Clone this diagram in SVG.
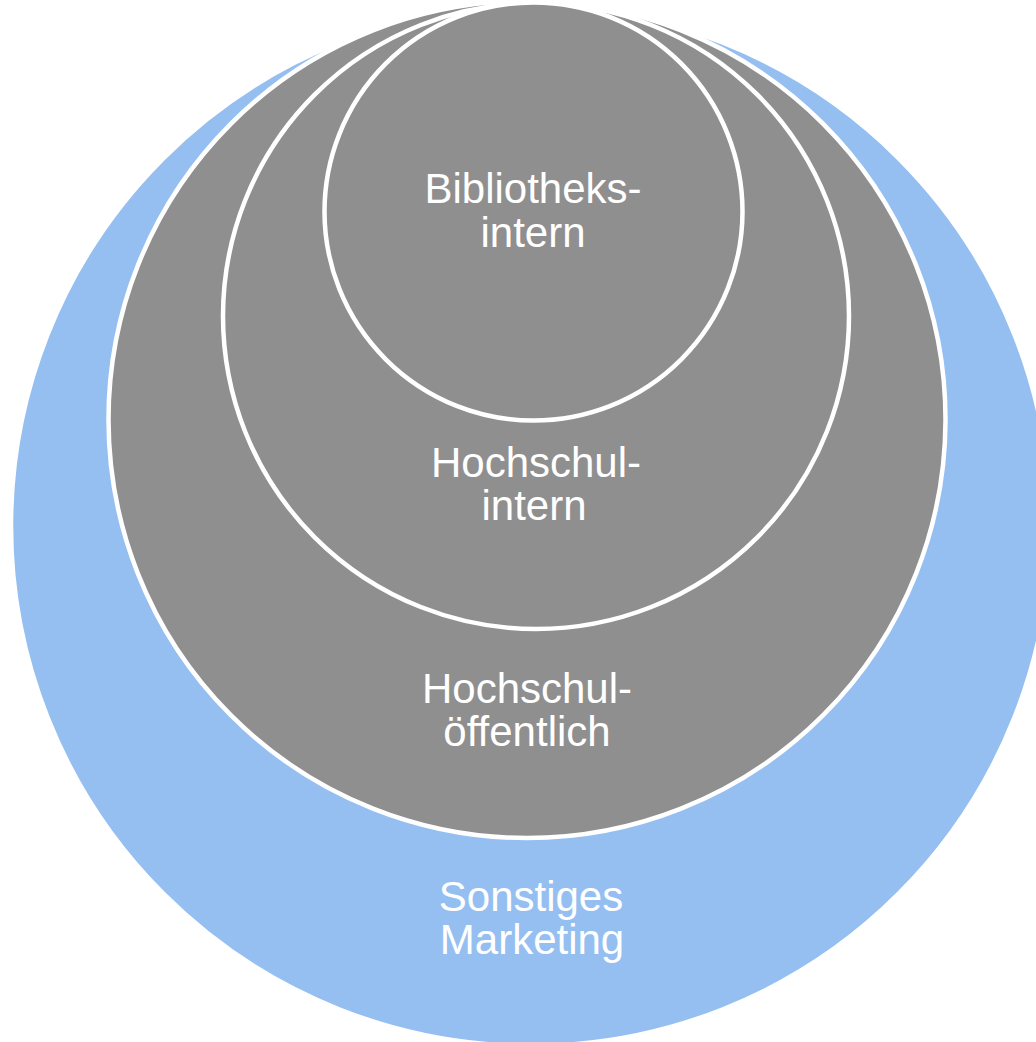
<svg xmlns="http://www.w3.org/2000/svg" width="1036" height="1042" viewBox="0 0 1036 1042">
<style>
.ring{stroke:#ffffff;stroke-width:4.5}
.blue{fill:#95bff1}
.gray{fill:#8f8f8f}
.lbl{font-family:"Liberation Sans",Arial,sans-serif;font-size:42px;fill:#ffffff;text-anchor:middle}
</style>
<rect width="1036" height="1042" fill="#ffffff"/>
<g id="sonstiges-marketing">
<circle class="ring blue" cx="531" cy="526" r="520"/>
<text class="lbl" x="531" y="911">Sonstiges</text>
<text class="lbl" x="532" y="954">Marketing</text>
</g>
<g id="hochschul-oeffentlich">
<circle class="ring gray" cx="527" cy="419.5" r="418.5"/>
<text class="lbl" x="527" y="703">Hochschul-</text>
<text class="lbl" x="527" y="746">öffentlich</text>
</g>
<g id="hochschul-intern">
<circle class="ring gray" cx="536" cy="316" r="313"/>
<text class="lbl" x="536" y="477">Hochschul-</text>
<text class="lbl" x="534" y="520">intern</text>
</g>
<g id="bibliotheks-intern">
<circle class="ring gray" cx="533.5" cy="211.5" r="209"/>
<text class="lbl" x="533" y="203">Bibliotheks-</text>
<text class="lbl" x="533" y="247">intern</text>
</g>
<g id="connectors"/>
</svg>
